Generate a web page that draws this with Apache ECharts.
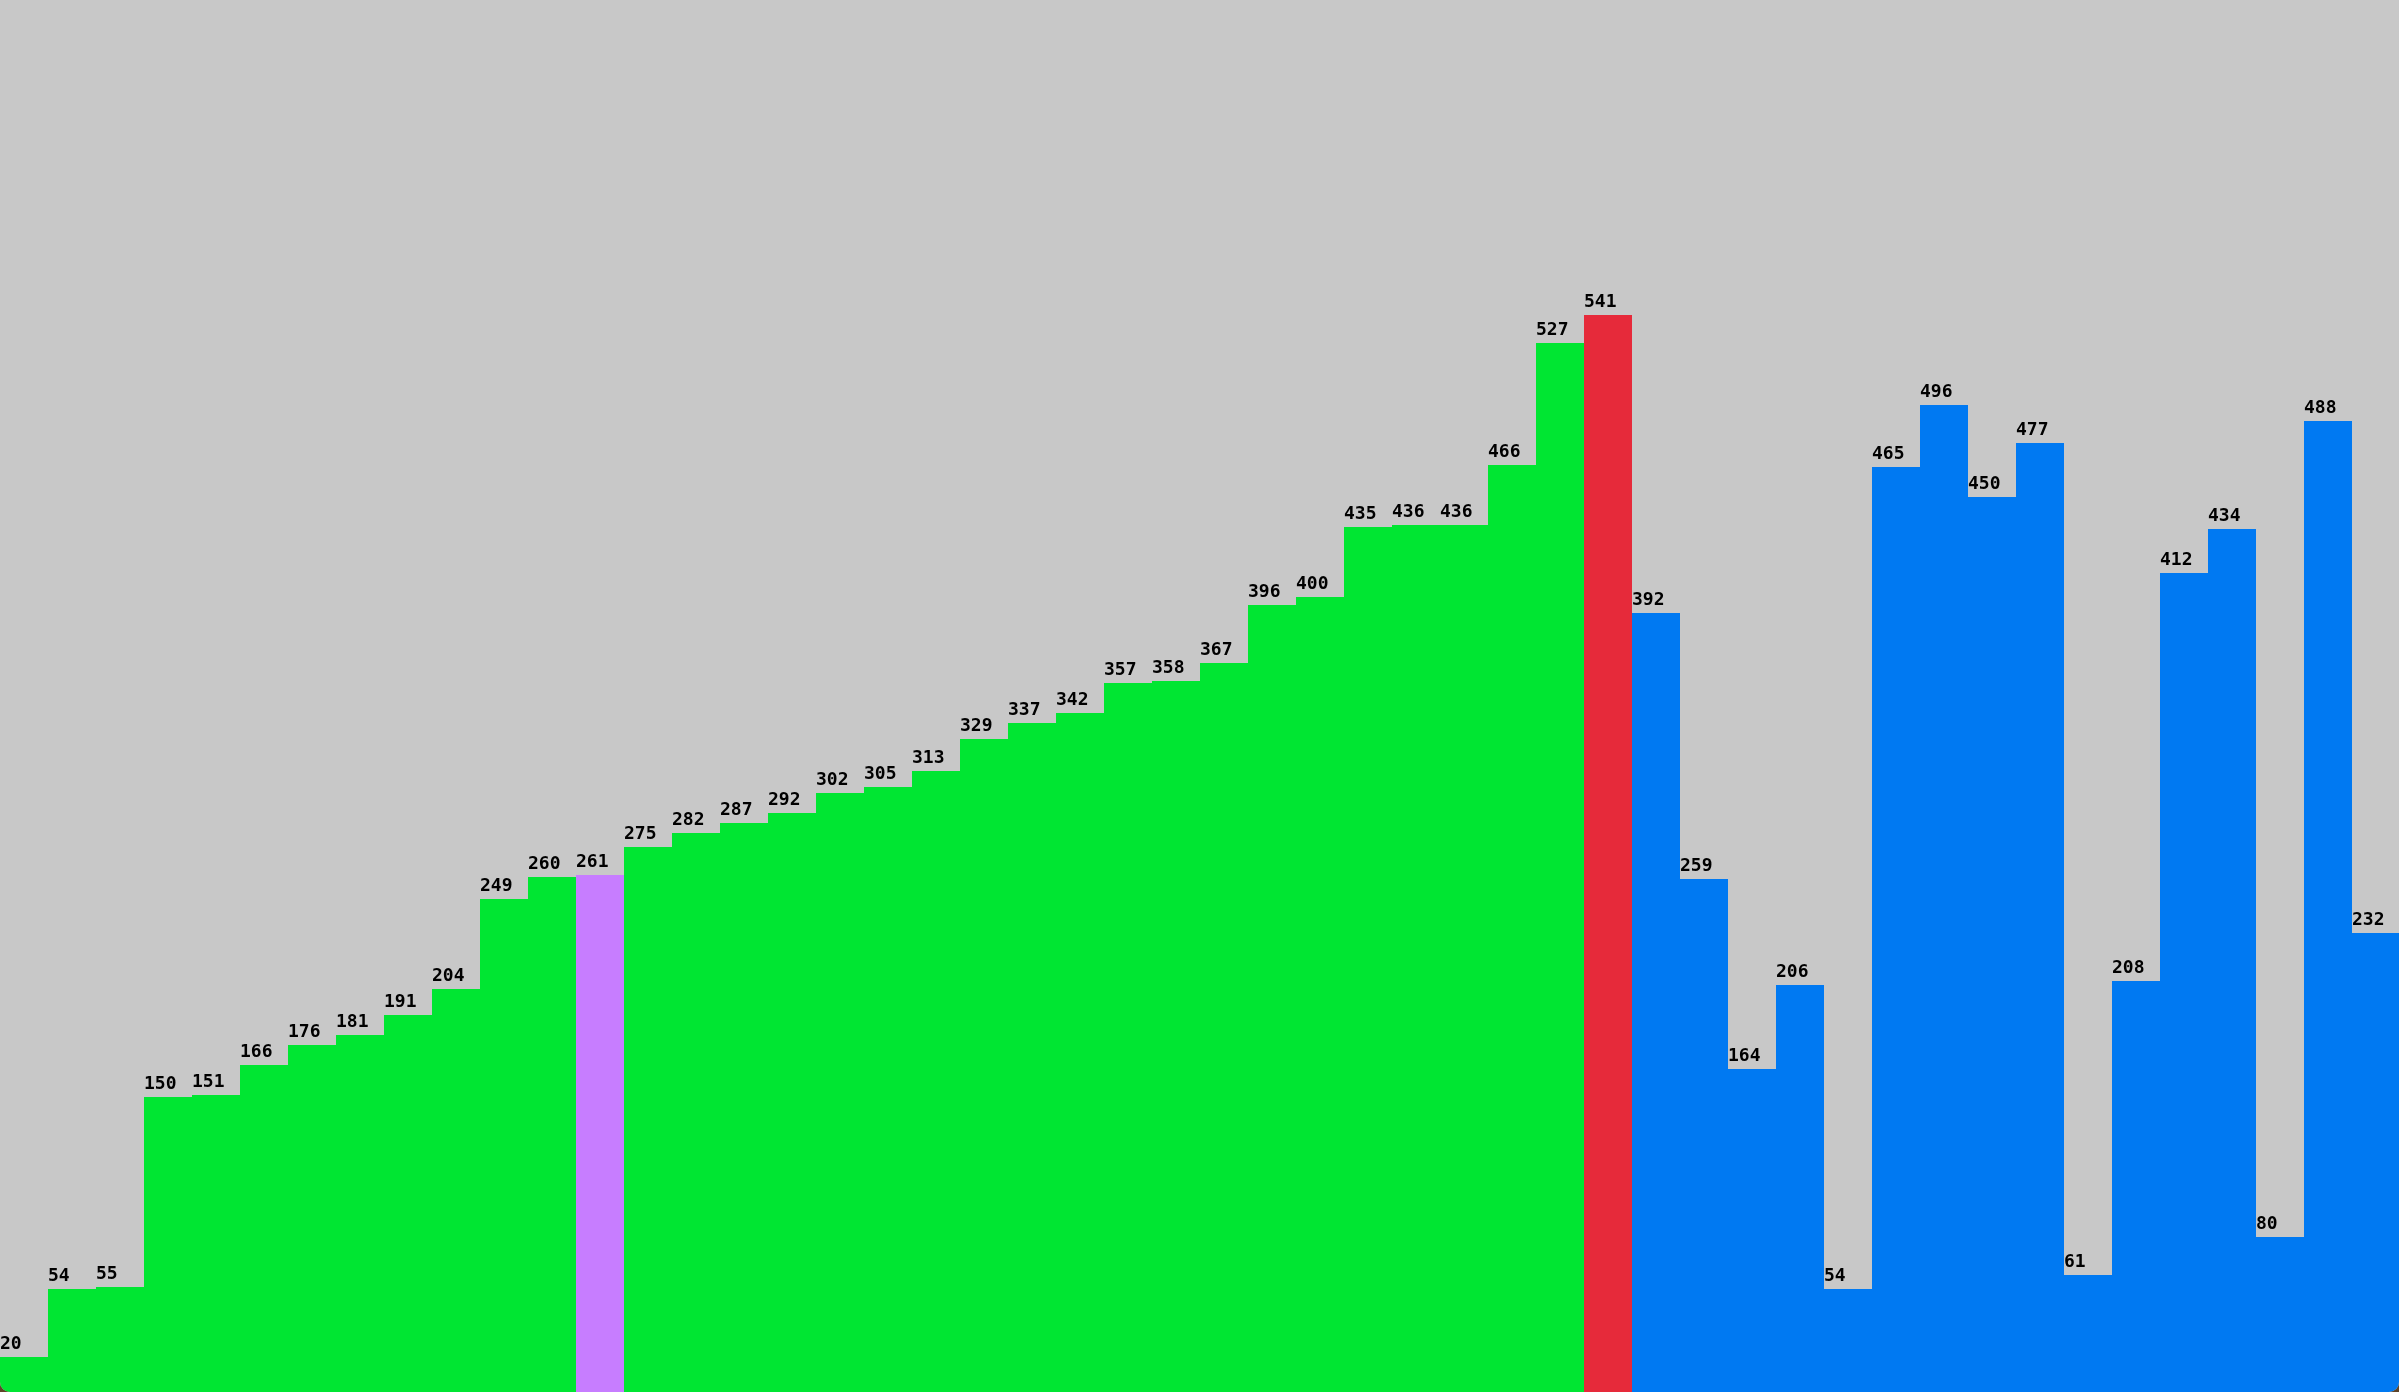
<!DOCTYPE html>
<html>
<head>
<meta charset="utf-8">
<script src="https://cdn.jsdelivr.net/npm/echarts@6/dist/echarts.min.js"></script>
<style>
html,body{margin:0;padding:0;width:2399px;height:1392px;overflow:hidden;background:#5e4428;}
#wrap{position:relative;width:2399px;height:1392px;overflow:hidden;border-radius:0 0 10px 10px;background:#c8c8c8;}
#chart{position:absolute;left:0;top:-3px;width:2400px;height:1400px;}
</style>
</head>
<body>
<div id="wrap"><div id="chart"></div></div>
<script>
const values = [20,54,55,150,151,166,176,181,191,204,249,260,261,275,282,287,292,302,305,313,329,337,342,357,358,367,396,400,435,436,436,466,527,541,392,259,164,206,54,465,496,450,477,61,208,412,434,80,488,232];
const states = ['sorted','sorted','sorted','sorted','sorted','sorted','sorted','sorted','sorted','sorted','sorted','sorted','pivot','sorted','sorted','sorted','sorted','sorted','sorted','sorted','sorted','sorted','sorted','sorted','sorted','sorted','sorted','sorted','sorted','sorted','sorted','sorted','sorted','current','unsorted','unsorted','unsorted','unsorted','unsorted','unsorted','unsorted','unsorted','unsorted','unsorted','unsorted','unsorted','unsorted','unsorted','unsorted','unsorted'];
const stateColors = {sorted:'#00e632', pivot:'#c77dff', current:'#e62a3a', unsorted:'#0079f2'};
const categories = values.map((v,i)=>String(i+1));

const chart = echarts.init(document.getElementById('chart'));
chart.setOption({
  backgroundColor:'#c8c8c8',
  animation:false,
  grid:{left:0,right:0,top:0,bottom:0,containLabel:false},
  xAxis:{type:'category',data:categories,show:false,boundaryGap:true},
  yAxis:{type:'value',min:0,max:700,show:false},
  series:[{
    type:'bar',
    barWidth:'100%',
    barGap:'0%',
    data:values.map((v,i)=>({value:v,itemStyle:{color:stateColors[states[i]]}})),
    label:{
      show:true,
      position:[0,-4],
      align:'left',
      verticalAlign:'bottom',
      color:'#000',
      fontFamily:'DejaVu Sans Mono',
      fontSize:18,
      fontWeight:'bold'
    }
  }]
});
</script>
</body>
</html>
